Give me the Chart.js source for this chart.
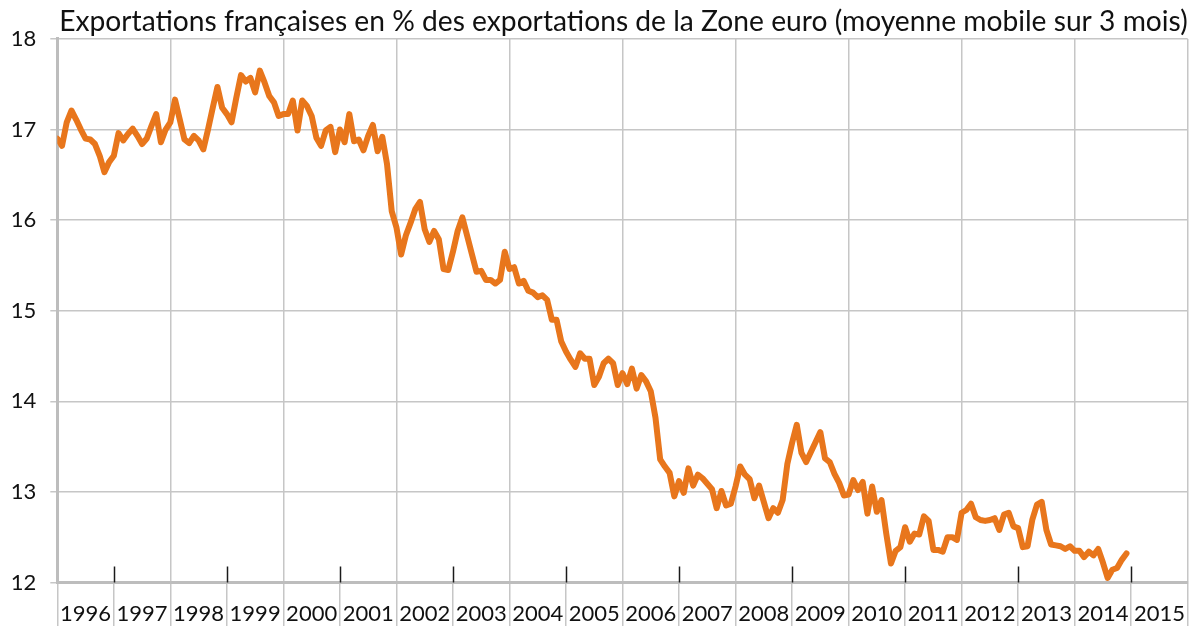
<!DOCTYPE html>
<html><head><meta charset="utf-8">
<script src="https://cdn.jsdelivr.net/npm/chart.js@4/dist/chart.umd.min.js"></script>
<style>html,body{margin:0;padding:0;background:#fff}#wrap{width:1195px;height:626px}</style>
</head><body><div id="wrap"><canvas id="c" width="1195" height="626"></canvas></div>
<script>
const TITLE = 'Exportations françaises en % des exportations de la Zone euro (moyenne mobile sur 3 mois)';
const yearLabels = ['1996','1997','1998','1999','2000','2001','2002','2003','2004','2005','2006','2007','2008','2009','2010','2011','2012','2013','2014','2015'];
const yTickValues = [12,13,14,15,16,17,18];

const v1996 = [16.90,16.82,17.08,17.21,17.11,17.00,16.90,16.89,16.84,16.71,16.53,16.64];
const v1997 = [16.71,16.96,16.88,16.95,17.01,16.93,16.84,16.90,17.04,17.17,16.86,17.00];
const v1998 = [17.08,17.33,17.11,16.89,16.85,16.93,16.88,16.78,17.00,17.24,17.47,17.24];
const v1999 = [17.17,17.08,17.35,17.60,17.53,17.57,17.41,17.65,17.52,17.37,17.30,17.15];
const v2000 = [17.17,17.17,17.32,16.99,17.32,17.26,17.15,16.91,16.82,16.99,17.03,16.75];
const v2001 = [17.00,16.86,17.17,16.87,16.89,16.77,16.93,17.05,16.76,16.92,16.62,16.10];
const v2002 = [15.92,15.62,15.83,15.97,16.12,16.20,15.90,15.76,15.88,15.79,15.46,15.45];
const v2003 = [15.65,15.88,16.03,15.83,15.63,15.43,15.44,15.34,15.34,15.30,15.34,15.65];
const v2004 = [15.46,15.48,15.30,15.33,15.22,15.20,15.15,15.17,15.12,14.90,14.90,14.66];
const v2005 = [14.55,14.46,14.38,14.53,14.47,14.47,14.18,14.27,14.42,14.47,14.42,14.18];
const v2006 = [14.31,14.19,14.36,14.14,14.29,14.22,14.11,13.82,13.36,13.28,13.21,12.95];
const v2007 = [13.12,12.99,13.26,13.07,13.19,13.15,13.09,13.03,12.82,13.01,12.85,12.87];
const v2008 = [13.06,13.28,13.19,13.14,12.93,13.07,12.89,12.71,12.82,12.77,12.91,13.31];
const v2009 = [13.54,13.74,13.43,13.33,13.44,13.55,13.66,13.37,13.33,13.20,13.10,12.96];
const v2010 = [12.97,13.13,13.02,13.11,12.76,13.06,12.78,12.91,12.54,12.21,12.35,12.39];
const v2011 = [12.61,12.45,12.54,12.53,12.73,12.68,12.36,12.36,12.34,12.50,12.50,12.47];
const v2012 = [12.77,12.80,12.87,12.72,12.69,12.68,12.69,12.71,12.58,12.75,12.77,12.62];
const v2013 = [12.60,12.39,12.40,12.69,12.86,12.89,12.58,12.42,12.41,12.40,12.37,12.40];
const v2014 = [12.35,12.35,12.28,12.34,12.30,12.37,12.22,12.05,12.14,12.16,12.25,12.32];

const yearly = [v1996,v1997,v1998,v1999,v2000,v2001,v2002,v2003,v2004,v2005,v2006,v2007,v2008,v2009,v2010,v2011,v2012,v2013,v2014];
const points = [];
yearly.forEach((arr, yi) => arr.forEach((v, m) => points.push({x: yi*12 + m, y: v})));

const FONT = 'Lato';
const mctx = document.createElement('canvas').getContext('2d');
mctx.font = '100px ' + FONT;
const titleSize = Math.round(100 * 1128 / mctx.measureText(TITLE).width * 10) / 10;
const titleTop = 22 - titleSize * 0.6;
const titleBottom = Math.max(0, 38 - titleTop - titleSize * 1.2);

const xTickValues = [];
for (let m = 0; m <= 240; m += 6) xTickValues.push(m);

const oddYearMarks = {
  id: 'oddYearMarks',
  beforeDatasetsDraw(chart) {
    const {ctx, chartArea, scales: {x}} = chart;
    ctx.save();
    ctx.strokeStyle = '#1a1a1a';
    ctx.lineWidth = 1.5;
    for (let m = 12; m < 240; m += 24) {
      const px = Math.round(x.getPixelForValue(m)) + 0.5;
      ctx.beginPath();
      ctx.moveTo(px, chartArea.bottom - 16);
      ctx.lineTo(px, chartArea.bottom);
      ctx.stroke();
    }
    ctx.restore();
  }
};

new Chart(document.getElementById('c'), {
  type: 'line',
  data: { datasets: [{
    data: points,
    borderColor: '#E8761C',
    borderWidth: 6,
    pointRadius: 0,
    tension: 0,
    borderJoinStyle: 'round',
    borderCapStyle: 'round',
    fill: false
  }]},
  options: {
    responsive: false,
    animation: false,
    layout: { padding: { left: 0, right: 7.3, top: 0, bottom: 0 } },
    plugins: {
      legend: { display: false },
      tooltip: { enabled: false },
      title: {
        display: true, text: TITLE, align: 'end', color: '#111',
        font: { family: FONT, size: titleSize, weight: 'normal', lineHeight: 1.2 },
        padding: { top: titleTop, bottom: titleBottom }
      }
    },
    scales: {
      x: {
        type: 'linear', min: 0, max: 240,
        afterBuildTicks: (s) => { s.ticks = xTickValues.map(v => ({value: v})); },
        afterFit: (s) => { s.height = 43.5; },
        grid: {
          color: (c) => (c.tick && c.tick.value % 24 === 0) ? '#c6c6c6' : 'rgba(0,0,0,0)',
          tickColor: (c) => (c.tick && c.tick.value % 12 === 0) ? '#c6c6c6' : 'rgba(0,0,0,0)',
          lineWidth: 1.5, tickLength: 44
        },
        border: { color: '#bdbdbd', width: 3 },
        ticks: {
          autoSkip: false, maxRotation: 0, minRotation: 0, padding: -26,
          color: '#111', font: { family: FONT, size: 22 },
          callback: (v) => (v % 12 === 6) ? yearLabels[(v - 6) / 12] : ''
        }
      },
      y: {
        min: 12, max: 18,
        afterBuildTicks: (s) => { s.ticks = yTickValues.map(v => ({value: v})); },
        afterFit: (s) => { s.width = 57.3; },
        grid: { color: '#c6c6c6', lineWidth: 1.5, tickLength: 7 },
        border: { color: '#bdbdbd', width: 3 },
        ticks: { color: '#111', padding: 14, font: { family: FONT, size: 22 } }
      }
    }
  },
  plugins: [oddYearMarks]
});
</script></body></html>
